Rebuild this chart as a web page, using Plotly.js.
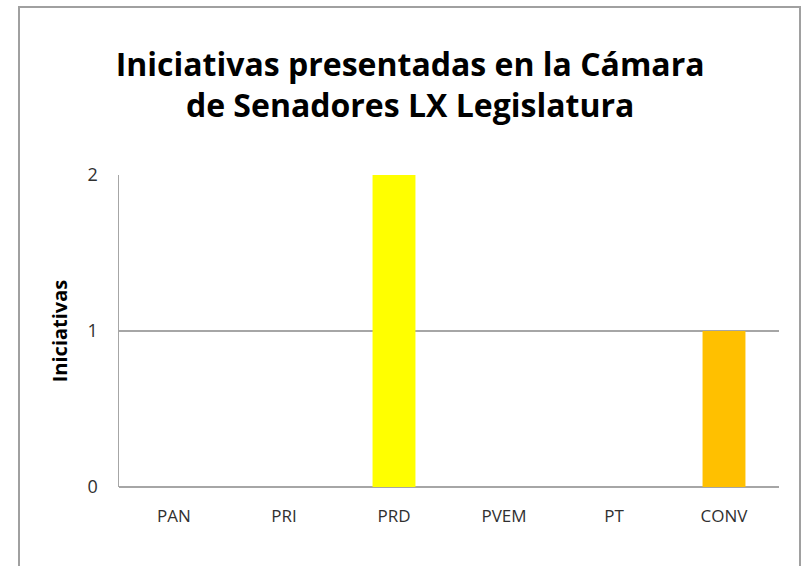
<!DOCTYPE html>
<html>
<head>
<meta charset="utf-8">
<script src="https://cdn.plot.ly/plotly-3.0.1.min.js"></script>
<style>
  html, body { margin: 0; padding: 0; background: #ffffff; }
  #frame { position: absolute; left: 18px; top: 6px; width: 779px; height: 570px;
           border: 2px solid #a0a0a0; border-bottom: none; }
  #chart { position: absolute; left: 0; top: 0; width: 801px; height: 566px; }
</style>
</head>
<body>
<div id="frame"></div>
<div id="chart"></div>
<script>
const parties = ["PAN", "PRI", "PRD", "PVEM", "PT", "CONV"];
const iniciativas = [0, 0, 2, 0, 0, 1];
const yTicks = [0, 1, 2];
const titleLines = ["Iniciativas presentadas en la Cámara", "de Senadores LX Legislatura"];
const yTitle = "Iniciativas";

const barColors = ["#FFFF00", "#FFFF00", "#FFFF00", "#FFC000", "#FFC000", "#FFC000"];
const FONT = "'Open Sans', 'Noto Sans', sans-serif";

const trace = {
  type: "bar",
  x: parties,
  y: iniciativas,
  marker: { color: barColors, line: { width: 0 } },
  width: 0.39,
  hoverinfo: "x+y"
};

const layout = {
  width: 801, height: 566,
  paper_bgcolor: "rgba(0,0,0,0)",
  plot_bgcolor: "rgba(0,0,0,0)",
  margin: { l: 119, r: 22, t: 175, b: 79 },
  showlegend: false,
  title: {
    text: titleLines.join("<br>"),
    font: { family: FONT, size: 32, color: "#000000", weight: "bold" },
    x: 0.512, xanchor: "center",
    yref: "container", y: 0.866, yanchor: "middle"
  },
  xaxis: {
    type: "category",
    showgrid: false,
    showline: false,
    zeroline: false,
    ticks: "",
    ticklabelstandoff: 17,
    tickfont: { family: FONT, size: 17, color: "#303030" }
  },
  yaxis: {
    range: [0, 2],
    tickvals: yTicks,
    ticktext: yTicks.map(String),
    showgrid: true,
    gridcolor: "#a6a6a6",
    gridwidth: 1.5,
    showline: true,
    linecolor: "#a6a6a6",
    linewidth: 1.5,
    zeroline: true,
    zerolinecolor: "#a6a6a6",
    zerolinewidth: 1.5,
    ticks: "",
    ticklabelstandoff: 16,
    tickfont: { family: FONT, size: 18, color: "#303030" },
    title: {
      text: yTitle,
      font: { family: FONT, size: 20, color: "#000000", weight: "bold" },
      standoff: 14
    }
  }
};

Plotly.newPlot("chart", [trace], layout, { displayModeBar: false, staticPlot: true });
</script>
</body>
</html>
